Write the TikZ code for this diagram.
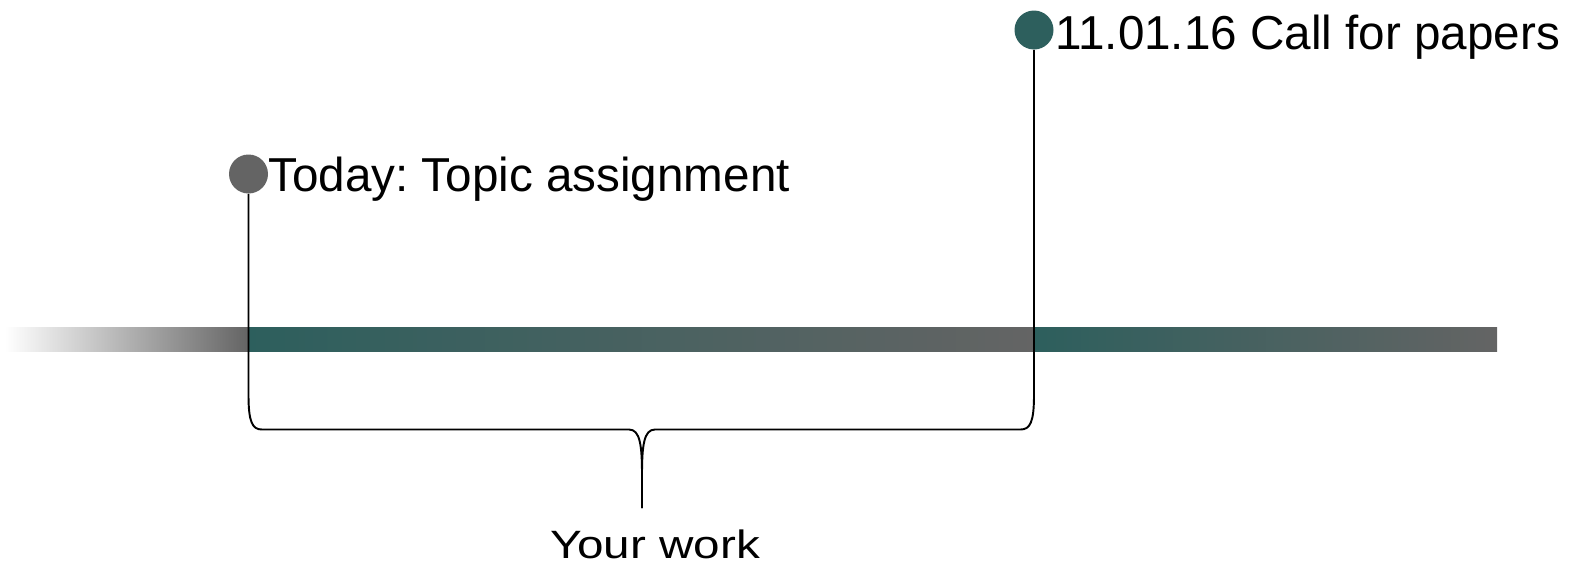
\documentclass[tikz,border=0pt]{standalone}
\usepackage{fontspec}
\setmainfont{Liberation Sans}
\frenchspacing
\definecolor{barteal}{RGB}{45,95,93}
\definecolor{bargray}{RGB}{100,100,100}
\tikzset{
    milestone/.style={circle, inner sep=0pt, minimum size=0.78cm},
    milelabel/.style={anchor=base west, inner sep=0pt, font=\fontsize{27.1}{32}\selectfont},
    bracket/.style={line width=1.1pt}
}
\begin{document}
\begin{tikzpicture}
    \useasboundingbox (0,0) rectangle (31.48,-11.4);

    % time bar
    \shade[left color=white, right color=bargray] (0.1,-6.54) rectangle (4.97,-7.02);
    \shade[left color=barteal, right color=bargray] (4.97,-6.54) rectangle (20.68,-7.02);
    \shade[left color=barteal, right color=bargray] (20.68,-6.54) rectangle (29.94,-7.02);

    \node[milestone, fill=bargray](today) at (4.97,-3.48) {};
    \node[milestone, fill=barteal](cfp) at (20.68,-0.6) {};
    \node[milelabel](today_l) at (5.36,-3.82) {Today: Topic assignment};
    \node[milelabel](cfp_l) at (21.1,-0.98) {11.01.16 Call for papers};

    \coordinate (tip) at (12.84,-10.16);
    \draw[bracket] (today.south) -- (4.97,-7.9)
        .. controls (4.97,-8.45) and (5.05,-8.59) .. (5.24,-8.59) -- (12.58,-8.59)
        .. controls (12.8,-8.59) and (12.84,-8.9) .. (12.84,-9.5) -- (tip);
    \draw[bracket] (cfp.south) -- (20.68,-7.9)
        .. controls (20.68,-8.45) and (20.6,-8.59) .. (20.41,-8.59) -- (13.1,-8.59)
        .. controls (12.88,-8.59) and (12.84,-8.9) .. (12.84,-9.5) -- (tip);

    \node[anchor=base, inner sep=0pt, font=\fontsize{27.1}{32}\selectfont](work) at (13.1,-11.16) {\scalebox{1}[0.83]{Your work}};
\end{tikzpicture}
\end{document}
